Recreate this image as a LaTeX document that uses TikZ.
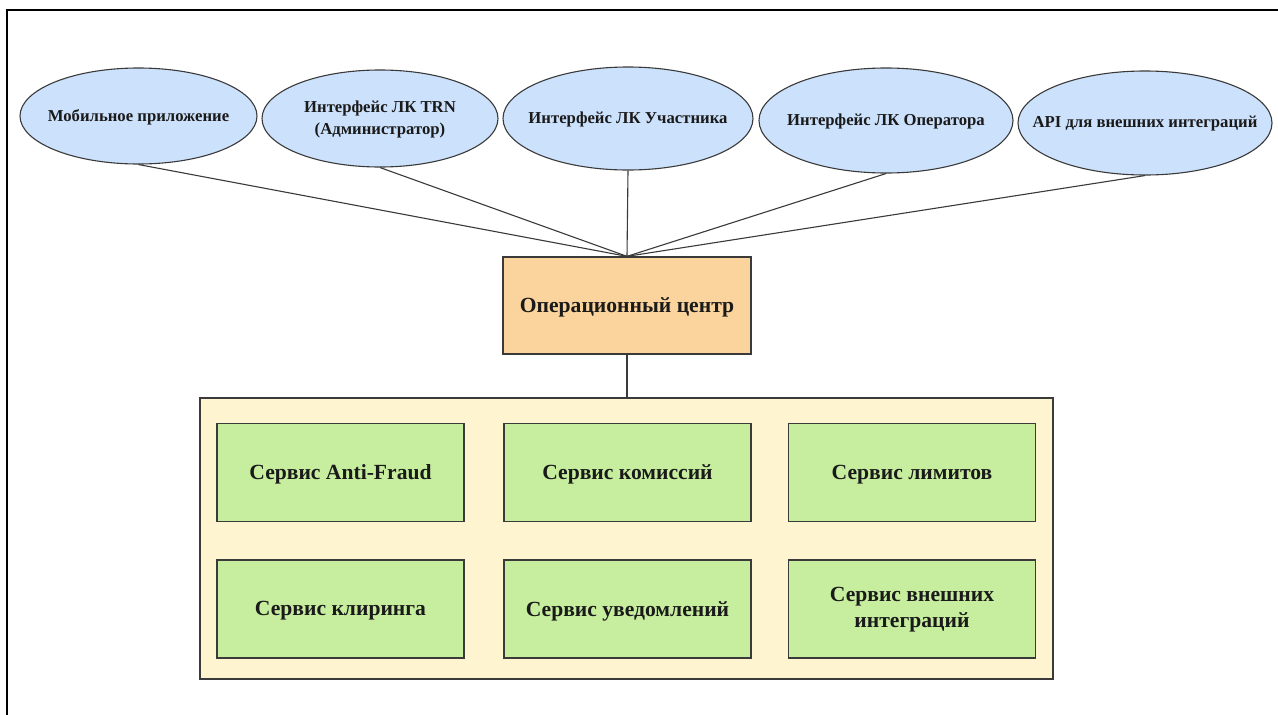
\documentclass[tikz,border=0pt]{standalone}
\usepackage{fontspec}
\setmainfont{Liberation Serif}
\usetikzlibrary{shapes.geometric}
\definecolor{ellfill}{HTML}{CCE1FB}
\definecolor{opsfill}{HTML}{FAD49C}
\definecolor{contfill}{HTML}{FFF4D0}
\definecolor{svcfill}{HTML}{C7EE9E}
\definecolor{edge}{HTML}{3A3A3A}
\definecolor{txt}{HTML}{1A1A1A}
\tikzset{
  ell/.style={ellipse, draw=edge, line width=1.1pt, fill=ellfill, inner sep=0pt},
  elltext/.style={text=txt, font=\fontsize{16.7}{22}\selectfont\bfseries, align=center, inner sep=0pt},
  opsbox/.style={rectangle, draw=edge, line width=1.3pt, fill=opsfill, inner sep=0pt,
    text=txt, font=\fontsize{21.6}{26}\selectfont\bfseries, align=center},
  svcbox/.style={rectangle, draw=edge, line width=1.3pt, fill=svcfill, inner sep=0pt,
    text=txt, font=\fontsize{21.6}{26}\selectfont\bfseries, align=center,
    minimum width=247pt, minimum height=98pt},
  boxtext/.style={text=txt, font=\fontsize{21.6}{26}\selectfont\bfseries, align=center, inner sep=0pt},
  conn/.style={draw=edge, line width=1.1pt},
}
\begin{document}
\begin{tikzpicture}[x=1pt,y=-1pt]
\useasboundingbox (0,0) rectangle (1278,715);
\fill[white] (0,0) rectangle (1278,715);
\draw[black, line width=2pt] (6.5,10) rectangle (1300,740);
% ellipses
\node[ell, minimum width=237pt, minimum height=96pt] (mob) at (138.5,116) {};
\node[ell, minimum width=236pt, minimum height=97pt] (adm) at (380,118.5) {};
\node[ell, minimum width=250pt, minimum height=103pt] (uch) at (628,118.5) {};
\node[ell, minimum width=254pt, minimum height=105pt] (opr) at (886,120.5) {};
\node[ell, minimum width=254pt, minimum height=104pt] (api) at (1145,123) {};
\node[elltext, yshift=-1pt] (tmob) at (mob) {Мобильное приложение};
\node[elltext, yshift=-1pt] (tadm) at (adm) {Интерфейс ЛК TRN\\(Администратор)};
\node[elltext, yshift=-1pt] (tuch) at (uch) {Интерфейс ЛК Участника};
\node[elltext, yshift=-1pt] (topr) at (opr) {Интерфейс ЛК Оператора};
\node[elltext, yshift=-1pt] (tapi) at (api) {API для внешних интеграций};
% container
\node[rectangle, draw=edge, line width=1.3pt, fill=contfill, minimum width=853pt, minimum height=281pt, inner sep=0pt] (cont) at (626.5,538.5) {};
% ops
\node[opsbox, minimum width=248pt, minimum height=97pt] (ops) at (627,305.5) {};
\node[boxtext, yshift=-2pt] (tops) at (ops) {Операционный центр};
% services
\node[svcbox] (s1) at (340.5,472.5) {};
\node[svcbox] (s2) at (627.5,472.5) {};
\node[svcbox] (s3) at (912,472.5) {};
\node[svcbox] (s4) at (340.5,609) {};
\node[svcbox] (s5) at (627.5,609) {};
\node[svcbox] (s6) at (912,609) {};
\node[boxtext, yshift=-2pt] (t1) at (s1) {Сервис Anti-Fraud};
\node[boxtext, yshift=-2pt] (t2) at (s2) {Сервис комиссий};
\node[boxtext, yshift=-2pt] (t3) at (s3) {Сервис лимитов};
\node[boxtext, yshift=-2pt] (t4) at (s4) {Сервис клиринга};
\node[boxtext, yshift=-2pt] (t5) at (s5) {Сервис уведомлений};
\node[boxtext, yshift=-1pt] (t6) at (s6) {Сервис внешних\\интеграций};
% connectors
\foreach \e in {mob,adm,uch,opr,api} \draw[conn] (\e.south) -- (ops.north);
\draw[conn] (ops.south) -- (cont.north -| ops.south);
\end{tikzpicture}
\end{document}
